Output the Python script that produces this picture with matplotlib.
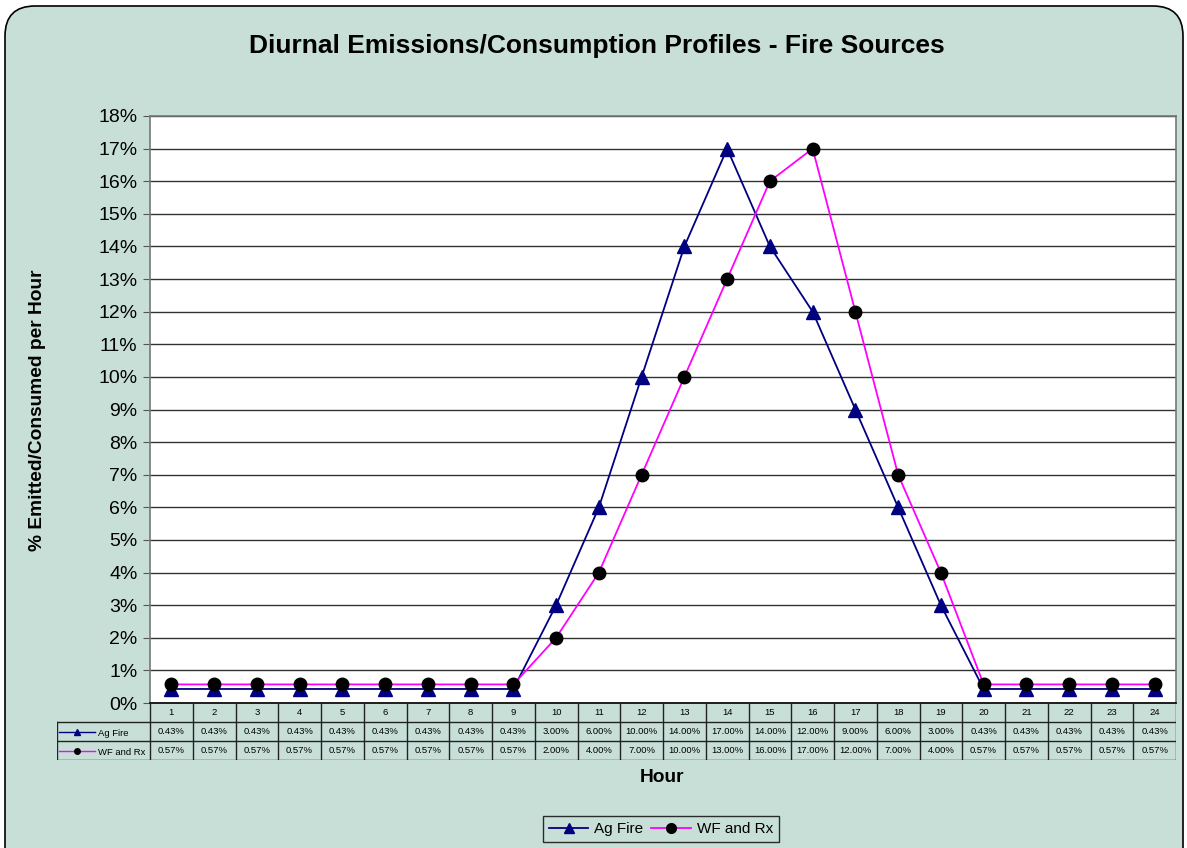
import numpy as np
import matplotlib.pyplot as plt
from matplotlib.patches import FancyBboxPatch
from matplotlib.lines import Line2D
from matplotlib.ticker import FuncFormatter

plt.rcParams['font.family'] = ['Liberation Sans', 'DejaVu Sans']

hours = list(range(1, 25))
ag_fire = [0.43] * 9 + [3, 6, 10, 14, 17, 14, 12, 9, 6, 3] + [0.43] * 5
wf_rx = [0.57] * 9 + [2, 4, 7, 10, 13, 16, 17, 12, 7, 4] + [0.57] * 5
series_names = ['Ag Fire', 'WF and Rx']

bg = '#c8dfd8'
navy = '#000080'
pink = '#ff00ff'

fig = plt.figure(figsize=(11.87, 8.48), dpi=100)
fig.patch.set_facecolor('white')

# rounded chart background
frame = FancyBboxPatch((0.05, -0.4), 11.78, 8.82,
                       boxstyle='round,pad=0,rounding_size=0.3',
                       transform=fig.dpi_scale_trans, facecolor=bg,
                       edgecolor='black', linewidth=1.2, zorder=-10)
fig.patches.append(frame)

ax = fig.add_axes([150 / 1187, 1 - 703 / 848, 1026 / 1187, 587 / 848])
ax.set_facecolor('white')

ax.plot(hours, ag_fire, '-', color=navy, lw=1.3, marker='^', ms=10,
        mfc=navy, mec=navy, label=series_names[0], zorder=3, clip_on=False)
ax.plot(hours, wf_rx, '-', color=pink, lw=1.3, marker='o', ms=9,
        mfc='black', mec='black', label=series_names[1], zorder=3, clip_on=False)

ax.set_xlim(0.5, 24.5)
ax.set_ylim(0, 18)
ax.set_yticks(np.arange(0, 19, 1))
ax.yaxis.set_major_formatter(FuncFormatter(lambda v, p: '%d%%' % v))
ax.tick_params(axis='y', labelsize=14, length=5, direction='out', color='#555555', pad=4)
ax.set_xticks([])
ax.yaxis.grid(True, color='#333333', lw=1)
ax.set_axisbelow(True)
for side in ['top', 'right', 'left', 'bottom']:
    ax.spines[side].set_color('#777777')
    ax.spines[side].set_linewidth(1.2)
ax.spines['bottom'].set_color('black')

# data table below the plot
col_w = 1026 / 24.0
x_left = 0.5 - (150 - 57) / col_w
tax = fig.add_axes([57 / 1187, 1 - 760 / 848, (1176 - 57) / 1187, 57 / 848])
tax.set_xlim(x_left, 24.5)
tax.set_ylim(0, 3)
tax.axis('off')
tax.patch.set_alpha(0)

lc = '#222222'
tax.plot([0.5, 24.5], [3, 3], color=lc, lw=1.2)
for yy in [2, 1, 0]:
    tax.plot([x_left, 24.5], [yy, yy], color=lc, lw=1)
for i in range(25):
    tax.plot([0.5 + i, 0.5 + i], [0, 3], color=lc, lw=1)
tax.plot([x_left, x_left], [0, 2], color=lc, lw=1)

for h, a, w in zip(hours, ag_fire, wf_rx):
    tax.text(h, 2.5, str(h), ha='center', va='center', fontsize=6.8)
    tax.text(h, 1.5, '%.2f%%' % a, ha='center', va='center', fontsize=6.8)
    tax.text(h, 0.5, '%.2f%%' % w, ha='center', va='center', fontsize=6.8)

# legend keys in row headers
kx0 = x_left + 0.05
kx1 = x_left + 0.9
tax.plot([kx0, kx1], [1.5, 1.5], color=navy, lw=1)
tax.plot([(kx0 + kx1) / 2], [1.5], marker='^', color=navy, ms=5)
tax.text(kx1 + 0.05, 1.42, series_names[0], ha='left', va='center', fontsize=6.8)
tax.plot([kx0, kx1], [0.5, 0.5], color=pink, lw=1)
tax.plot([(kx0 + kx1) / 2], [0.5], marker='o', color='black', ms=4)
tax.text(kx1 + 0.05, 0.42, series_names[1], ha='left', va='center', fontsize=6.8)

fig.text(597 / 1187, 1 - 46 / 848, 'Diurnal Emissions/Consumption Profiles - Fire Sources',
         ha='center', va='center', fontsize=19, fontweight='bold')
fig.text(38 / 1187, 1 - 410 / 848, '% Emitted/Consumed per Hour', rotation=90,
         ha='center', va='center', fontsize=13.8, fontweight='bold')
fig.text(662 / 1187, 1 - 778 / 848, 'Hour', ha='center', va='center',
         fontsize=13.8, fontweight='bold')

handles = [Line2D([], [], color=navy, marker='^', ms=7, lw=1.3),
           Line2D([], [], color=pink, marker='o', mfc='black', mec='black', ms=7, lw=1.3)]
leg = fig.legend(handles, series_names, loc='center', ncol=2,
                 bbox_to_anchor=(661 / 1187, 1 - 829 / 848), fontsize=11,
                 frameon=True, fancybox=False, handlelength=2.6, handletextpad=0.4,
                 columnspacing=0.5, borderpad=0.4)
leg.get_frame().set_facecolor(bg)
leg.get_frame().set_edgecolor('black')
leg.get_frame().set_linewidth(1)

fig.savefig('out.png', dpi=100)
